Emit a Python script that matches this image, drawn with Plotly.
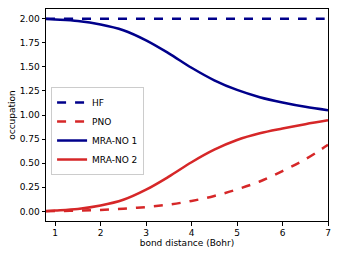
import plotly.graph_objects as go

x = [0.8, 1.0, 1.5, 2.0, 2.5, 3.0, 3.5, 4.0, 4.5, 5.0, 5.5, 6.0, 6.5, 7.0]
hf = [2.0] * len(x)
pno = [0.0, 0.003, 0.007, 0.015, 0.028, 0.045, 0.07, 0.108, 0.16, 0.228, 0.31, 0.418, 0.54, 0.69]
mra1 = [1.995, 1.99, 1.975, 1.94, 1.88, 1.775, 1.64, 1.49, 1.36, 1.26, 1.185, 1.13, 1.085, 1.05]
mra2 = [0.005, 0.01, 0.025, 0.06, 0.12, 0.225, 0.36, 0.51, 0.64, 0.74, 0.81, 0.86, 0.905, 0.945]

navy = "#00008b"
red = "#d62728"

fig = go.Figure()
fig.add_trace(go.Scatter(x=x, y=hf, mode="lines", name="HF",
                         line=dict(color=navy, width=2.5, dash="dash", shape="spline")))
fig.add_trace(go.Scatter(x=x, y=pno, mode="lines", name="PNO",
                         line=dict(color=red, width=2.5, dash="dash", shape="spline")))
fig.add_trace(go.Scatter(x=x, y=mra1, mode="lines", name="MRA-NO 1",
                         line=dict(color=navy, width=2.5, shape="spline")))
fig.add_trace(go.Scatter(x=x, y=mra2, mode="lines", name="MRA-NO 2",
                         line=dict(color=red, width=2.5, shape="spline")))

axis_common = dict(showline=True, linecolor="black", linewidth=1, mirror=True,
                   ticks="outside", ticklen=3.5, tickwidth=0.8, tickcolor="black",
                   showgrid=False, zeroline=False, automargin=False,
                   tickfont=dict(family="DejaVu Sans", size=9, color="black"))

fig.update_layout(
    width=341, height=256,
    margin=dict(l=46, r=13, t=9, b=35),
    paper_bgcolor="white", plot_bgcolor="white",
    font=dict(family="DejaVu Sans", size=9, color="black"),
    xaxis=dict(range=[0.8, 7.0001], tickvals=[1, 2, 3, 4, 5, 6, 7], ticktext=["1", "2", "3", "4", "5", "6", "7"],
               title=dict(text="bond distance (Bohr)", font=dict(size=9), standoff=0),
               **axis_common),
    yaxis=dict(range=[-0.1, 2.1], tickvals=[0, 0.25, 0.5, 0.75, 1.0, 1.25, 1.5, 1.75, 2.0],
               tickformat=".2f",
               title=dict(text="occupation", font=dict(size=9), standoff=2),
               **axis_common),
    legend=dict(x=0.018, y=0.632, xanchor="left", yanchor="top",
                bgcolor="rgba(255,255,255,0.8)", bordercolor="#cccccc", borderwidth=1,
                font=dict(size=9), tracegroupgap=0, itemwidth=30),
    showlegend=True,
)

fig.write_html("out.html", config={"displayModeBar": False},
               post_script="document.body.style.margin='0';")
